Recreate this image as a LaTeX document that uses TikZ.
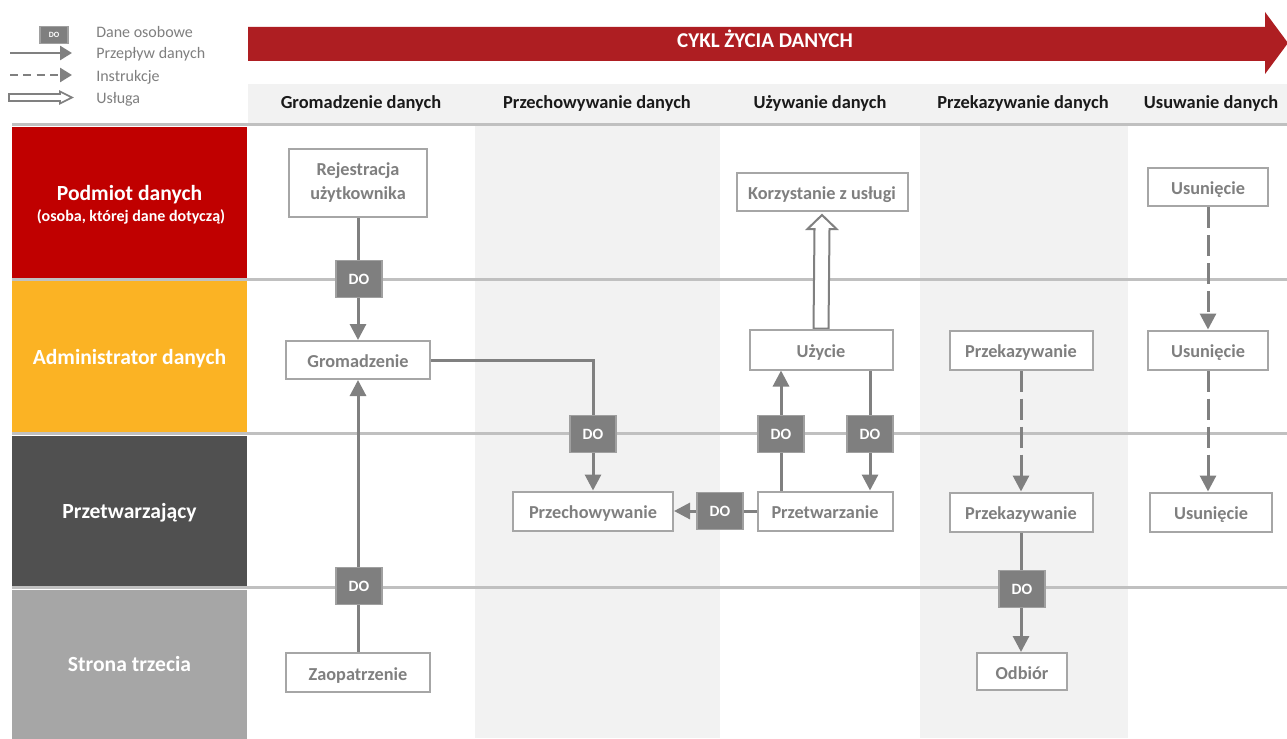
\documentclass[tikz,border=0pt]{standalone}
\usepackage{fontspec}
\setmainfont{Carlito}
\usetikzlibrary{arrows.meta,calc}
\definecolor{lanered}{HTML}{C00000}
\definecolor{laneorange}{HTML}{FBB324}
\definecolor{lanedark}{HTML}{505050}
\definecolor{lanelight}{HTML}{A6A6A6}
\definecolor{colgray}{HTML}{F2F2F2}
\definecolor{sepgray}{HTML}{C0C0C0}
\definecolor{boxgray}{HTML}{A6A6A6}
\definecolor{txtgray}{HTML}{7F7F7F}
\definecolor{linegray}{HTML}{808080}
\definecolor{dogray}{HTML}{7F7F7F}
\definecolor{doborder}{HTML}{A0A0A0}
\definecolor{arrowred}{HTML}{AE1E22}
\definecolor{titleblack}{HTML}{1A1A1A}
\pgfdeclarelayer{back}
\pgfdeclarelayer{mid}
\pgfsetlayers{back,mid,main}
\tikzset{
  sz/.style 2 args={minimum width=#1*0.75pt, minimum height=#2*0.75pt},
  procbox/.style={draw=boxgray, line width=1.5pt, fill=white, text=txtgray, inner sep=0pt, align=center,
    font=\bfseries\fontsize{13.7pt}{18pt}\selectfont},
  oneline/.style={text height=11.25pt, text depth=0pt},
  dobox/.style={draw=doborder, line width=1.2pt, fill=dogray, text=white, inner sep=0pt,
    minimum width=34.5pt, minimum height=27.75pt, text height=8.6pt, text depth=0pt,
    font=\bfseries\fontsize{11.8pt}{13pt}\selectfont},
  lanebox/.style={inner sep=0pt, text=white, align=center, text height=11.7pt, text depth=0pt,
    font=\bfseries\fontsize{16.2pt}{20pt}\selectfont},
  lanetext/.style={inner sep=0pt, text=white, anchor=base},
  coltitle/.style={text=titleblack, inner sep=0pt, anchor=base, font=\bfseries\fontsize{13.8pt}{16pt}\selectfont},
  legtext/.style={text=txtgray, anchor=west, inner sep=0pt, font=\fontsize{12pt}{14pt}\selectfont},
  sepline/.style={draw=sepgray, line width=2.25pt},
  flow/.style={draw=linegray, line width=2.25pt, -{Triangle[length=12pt,width=12pt]}},
  instr/.style={flow, dash pattern=on 15.75pt off 5.25pt},
  legflow/.style={draw=linegray, line width=2pt, -{Triangle[length=9pt,width=10.5pt]}},
  leginstr/.style={legflow, dash pattern=on 6pt off 4pt},
  svc/.style={draw=linegray, fill=white, line width=1.5pt, line join=miter},
}
\begin{document}
\begin{tikzpicture}[x=0.75pt,y=-0.75pt]
\useasboundingbox (0,0) rectangle (1287,738);

% ---------- backgrounds ----------
\begin{pgfonlayer}{back}
  \fill[white] (0,0) rectangle (1287,738);
  \fill[colgray] (248,84) rectangle (1287,124);
  \fill[colgray] (475,125) rectangle (720,738);
  \fill[colgray] (920,125) rectangle (1128,738);
  \draw[sepline] (12,125) -- (1287,125);
  \draw[sepline] (12,279.5) -- (1287,279.5);
  \draw[sepline] (12,433.5) -- (1287,433.5);
  \draw[sepline] (12,587.5) -- (1287,587.5);
  % cycle arrow
  \fill[arrowred] (248,27) -- (1265,27) -- (1265,12) -- (1288,43) -- (1265,74) -- (1265,61) -- (248,61) -- cycle;
\end{pgfonlayer}

\node[text=white, inner sep=0pt, text height=7.5pt, text depth=0pt, font=\bfseries\fontsize{15.8pt}{18pt}\selectfont] (cycle) at (765,43) {CYKL ŻYCIA DANYCH};

% ---------- legend ----------
\node[dobox, sz={28}{17}, line width=0.8pt, text height=4pt, font=\bfseries\fontsize{6pt}{7pt}\selectfont] (lgdo) at (54,35) {DO};
\node[legtext] (lg1) at (96,32) {Dane osobowe};
\coordinate (lga1) at (10,53);
\coordinate (lga2) at (72,53);
\draw[legflow] (lga1) -- (lga2);
\node[legtext] (lg2) at (96,54) {Przepływ danych};
\coordinate (lgb1) at (10,75);
\coordinate (lgb2) at (72,75);
\draw[leginstr] (lgb1) -- (lgb2);
\node[legtext] (lg3) at (96,77) {Instrukcje};
\coordinate (lgc) at (9,97.5);
\draw[svc, line width=1.2pt] (lgc) ++(0,-3.5) -- ++(51,0) -- ++(0,-2.5) -- ++(12,6) -- ++(-12,6) -- ++(0,-2.5) -- ++(-51,0) -- cycle;
\node[legtext] (lg4) at (96,99) {Usługa};

% ---------- column titles ----------
\node[coltitle] (c1) at (361,108.3) {Gromadzenie danych};
\node[coltitle] (c2) at (597,108.3) {Przechowywanie danych};
\node[coltitle] (c3) at (820,108.3) {Używanie danych};
\node[coltitle] (c4) at (1023,108.3) {Przekazywanie danych};
\node[coltitle] (c5) at (1211,108.3) {Usuwanie danych};

% ---------- lanes ----------
\node[lanebox, fill=lanered, sz={235}{151.5}] (l1) at (129.5,202.5) {};
\node[lanetext, font=\bfseries\fontsize{16.2pt}{20pt}\selectfont] (l1t) at (129.5,200) {Podmiot danych};
\node[lanetext, font=\bfseries\fontsize{12pt}{14pt}\selectfont] (l1s) at (131,221.5) {(osoba, której dane dotyczą)};
\node[lanebox, fill=laneorange, sz={235}{151}] (l2) at (129.5,356.5) {Administrator danych};
\node[lanebox, fill=lanedark, sz={235}{150}] (l3) at (129.5,510.5) {Przetwarzający};
\node[lanebox, fill=lanelight, sz={235}{149}] (l4) at (129.5,664) {Strona trzecia};

% ---------- process boxes ----------
\node[procbox, sz={138}{68}] (reg) at (358,183) {Rejestracja\\użytkownika};
\node[procbox, oneline, sz={144}{38}] (gro) at (358,360) {Gromadzenie};
\node[procbox, oneline, sz={144}{39}] (zao) at (358,672.5) {Zaopatrzenie};
\node[procbox, oneline, sz={160}{39}] (prz) at (593,511) {Przechowywanie};
\node[procbox, oneline, sz={171}{38}] (kor) at (822,192) {Korzystanie z usługi};
\node[procbox, oneline, sz={143}{40}] (use) at (821,349.5) {Użycie};
\node[procbox, oneline, sz={135}{39}] (ptw) at (825,511) {Przetwarzanie};
\node[procbox, oneline, sz={143}{39}] (pk1) at (1021,350) {Przekazywanie};
\node[procbox, oneline, sz={143}{39}] (pk2) at (1021,512) {Przekazywanie};
\node[procbox, oneline, sz={90}{37}] (odb) at (1022,671.5) {Odbiór};
\node[procbox, oneline, sz={120}{38}] (us1) at (1208,187) {Usunięcie};
\node[procbox, oneline, sz={120}{39}] (us2) at (1208,350) {Usunięcie};
\node[procbox, oneline, sz={122}{39}] (us3) at (1211,512) {Usunięcie};

% ---------- DO boxes ----------
\node[dobox] (do1) at (359,279) {DO};
\node[dobox] (do2) at (593,434) {DO};
\node[dobox] (do3) at (781,434) {DO};
\node[dobox] (do4) at (870,434) {DO};
\node[dobox] (do5) at (720,511) {DO};
\node[dobox] (do6) at (359,586) {DO};
\node[dobox] (do7) at (1022,589) {DO};

% ---------- connectors ----------
\begin{pgfonlayer}{mid}
  \draw[flow] (reg.south) -- (reg.south |- gro.north);
  \draw[flow] (zao.north) -- (zao.north |- gro.south);
  \draw[flow] (gro.east) -| (prz.north);
  \draw[flow] (ptw.west) -- (prz.east);
  \draw[flow] (ptw.north -| do3) -- (use.south -| do3);
  \draw[flow] (use.south -| do4) -- (ptw.north -| do4);
  \draw[svc] ($(use.north)+(-7.5,0)$) -- ($(kor.south)+(-7.5,17)$) -- ($(kor.south)+(-14.5,17)$)
    -- ($(kor.south)+(0,3)$) -- ($(kor.south)+(14.5,17)$) -- ($(kor.south)+(7.5,17)$)
    -- ($(use.north)+(7.5,0)$) -- cycle;
  \draw[instr] (pk1.south) -- (pk2.north);
  \draw[flow] (pk2.south) -- (pk2.south |- odb.north);
  \draw[instr] (us1.south) -- (us2.north);
  \draw[instr] (us2.south) -- (us2.south |- us3.north);
\end{pgfonlayer}
\end{tikzpicture}
\end{document}
